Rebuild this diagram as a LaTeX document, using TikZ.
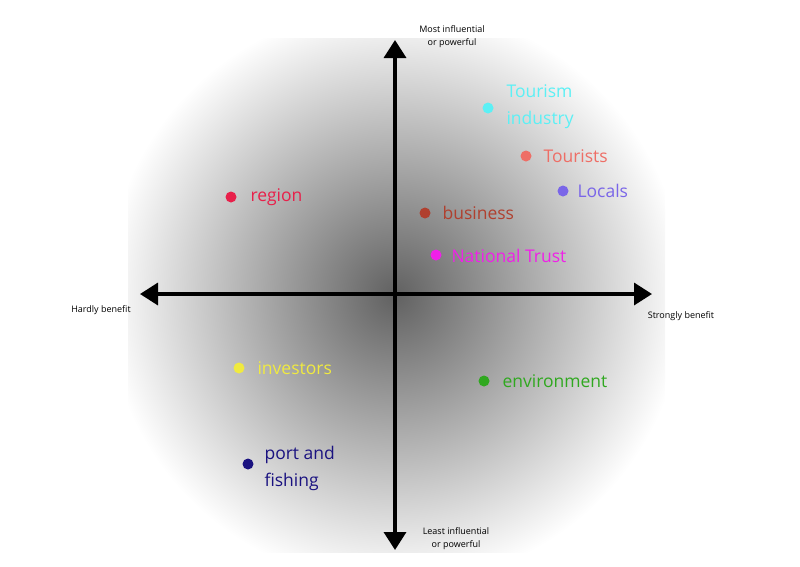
\documentclass[tikz,border=0pt]{standalone}
\usepackage{fontspec}
\setmainfont{Open Sans}
\usetikzlibrary{arrows.meta}

\tikzset{
  axis/.style={line width=3.5pt,-{Triangle[length=18pt,width=22pt]}},
  stake/.style={circle,fill=#1,inner sep=0pt,minimum size=11pt},
  stakelabel/.style={anchor=west,text=#1,font=\fontsize{17.5}{27}\selectfont,align=left},
  small/.style={font=\fontsize{9}{13}\selectfont,align=center}
}

\begin{document}
\begin{tikzpicture}[x=1pt,y=-1pt]
  \useasboundingbox (0,0) rectangle (800,566);

  % shaded background
  \begin{scope}
    \clip (128,38) rectangle (665,552);
    \shade[inner color=black!62,outer color=white] (395,295) circle (290);
  \end{scope}

  % axes
  \coordinate (centre) at (395,294);
  \coordinate (left end) at (140,294);
  \coordinate (right end) at (652,294);
  \coordinate (top end) at (395,40);
  \coordinate (bottom end) at (395,550);
  \draw[axis] (centre) -- (left end);
  \draw[axis] (centre) -- (right end);
  \draw[axis] (centre) -- (top end);
  \draw[axis] (centre) -- (bottom end);

  \node[small] (most) at (452,37) {Most influential\\or powerful};
  \node[small] (least) at (456,539) {Least influential\\or powerful};
  \node[small] (hardly) at (101,310) {Hardly benefit};
  \node[small] (strongly) at (681,316) {Strongly benefit};

  % stakeholders
  \definecolor{cTour}{HTML}{5CF0F5}
  \definecolor{cTourist}{HTML}{EE6E66}
  \definecolor{cLocal}{HTML}{7A66E8}
  \definecolor{cRegion}{HTML}{E8204A}
  \definecolor{cBus}{HTML}{B0402F}
  \definecolor{cTrust}{HTML}{F020E8}
  \definecolor{cInv}{HTML}{F0EA40}
  \definecolor{cEnv}{HTML}{30A820}
  \definecolor{cPort}{HTML}{1A1280}

  \node[stake=cTour] (tourism) at (488,108) {};
  \node[stakelabel=cTour] at (503,107) {Tourism\\industry};
  \node[stake=cTourist] (tourists) at (526,156) {};
  \node[stakelabel=cTourist] at (540,156) {Tourists};
  \node[stake=cLocal] (locals) at (563,191) {};
  \node[stakelabel=cLocal] at (574,191) {Locals};
  \node[stake=cRegion] (region) at (231,197) {};
  \node[stakelabel=cRegion] at (247,197) {region};
  \node[stake=cBus] (business) at (425,213) {};
  \node[stakelabel=cBus] at (439,213) {business};
  \node[stake=cTrust] (trust) at (436,255) {};
  \node[stakelabel=cTrust] at (448,256) {National Trust};
  \node[stake=cInv] (investors) at (239,368) {};
  \node[stakelabel=cInv] at (254,368) {investors};
  \node[stake=cEnv] (environment) at (484,381) {};
  \node[stakelabel=cEnv] at (499,381) {environment};
  \node[stake=cPort] (port) at (248,464) {};
  \node[stakelabel=cPort] at (261,468) {port and\\fishing};
\end{tikzpicture}
\end{document}
